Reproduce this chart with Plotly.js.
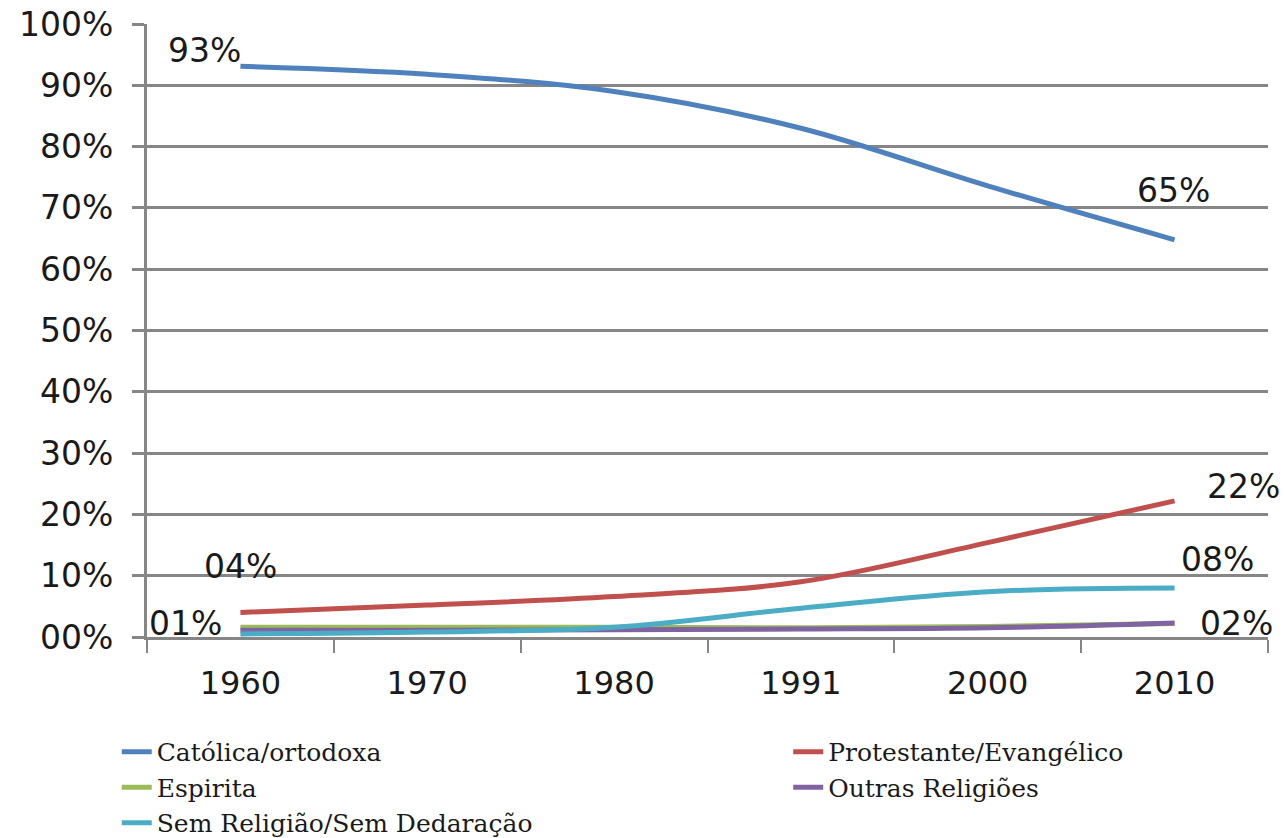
<!DOCTYPE html>
<html>
<head>
<meta charset="utf-8">
<script src="https://cdn.plot.ly/plotly-3.0.1.min.js"></script>
<style>html,body{margin:0;padding:0;background:#fff;}#chart{width:1284px;height:838px;}</style>
</head>
<body>
<div id="chart"></div>
<script>
const years = ["1960", "1970", "1980", "1991", "2000", "2010"];
const catolica = [93.1, 91.8, 89.0, 83.0, 73.6, 64.8];
const protestante = [4.0, 5.2, 6.6, 9.0, 15.4, 22.2];
const espirita = [1.6, 1.6, 1.6, 1.5, 1.7, 2.2];
const outras = [1.1, 1.1, 1.2, 1.3, 1.5, 2.3];
const semReligiao = [0.5, 0.8, 1.6, 4.7, 7.4, 8.0];
const seriesNames = ["Católica/ortodoxa", "Protestante/Evangélico", "Espirita", "Outras Religiões", "Sem Religião/Sem Dedaração"];
const seriesColors = ["#4F81BD", "#C0504D", "#9BBB59", "#8064A2", "#4BACC6"];
const seriesLegend = ["legend", "legend2", "legend", "legend2", "legend"];
const yTickVals = [0, 10, 20, 30, 40, 50, 60, 70, 80, 90, 100];
const yTickText = ["00%", "10%", "20%", "30%", "40%", "50%", "60%", "70%", "80%", "90%", "100%"];
// data labels: series values, point index, label text
const labelSeries = [catolica, catolica, protestante, protestante, espirita, semReligiao, outras];
const labelIndex = [0, 5, 0, 5, 0, 5, 5];
const labelText = ["93%", "65%", "04%", "22%", "01%", "08%", "02%"];
const labelShiftX = [-36, -1, 0, 69, -55, 43, 62];
const labelShiftY = [16, 49, 46, 14, 4, 28, -1];

const allSeries = [catolica, protestante, espirita, outras, semReligiao];
const traces = allSeries.map((vals, i) => ({
  x: years, y: vals, type: "scatter", mode: "lines",
  name: seriesNames[i], legend: seriesLegend[i],
  line: {color: seriesColors[i], width: 5, shape: "spline", smoothing: 1},
  hoverinfo: "skip"
}));

function tf(size) { return {family: "DejaVu Sans, Verdana, sans-serif", size: size, color: "#1a1a1a"}; }
function lf() { return {family: "DejaVu Serif, Liberation Serif, serif", size: 25, color: "#1a1a1a"}; }

const layout = {
  width: 1284, height: 838,
  margin: {l: 147, r: 16, t: 24, b: 201, autoexpand: false},
  paper_bgcolor: "#fff", plot_bgcolor: "#fff",
  showlegend: true,
  xaxis: {
    type: "category", range: [-0.5, 5.5],
    tickson: "boundaries", ticks: "outside", ticklen: 13, tickwidth: 2, tickcolor: "#868686",
    showgrid: false, showline: true, linecolor: "#868686", linewidth: 3,
    tickfont: tf(32), ticklabelstandoff: 16, fixedrange: true
  },
  yaxis: {
    range: [0, 100], tickvals: yTickVals, ticktext: yTickText,
    ticks: "outside", ticklen: 12, tickwidth: 3, tickcolor: "#868686",
    showgrid: true, gridcolor: "#868686", gridwidth: 3,
    showline: true, linecolor: "#868686", linewidth: 3,
    zeroline: false, tickfont: tf(33), ticklabelstandoff: 12, fixedrange: true
  },
  legend: {
    orientation: "v", x: -0.027, xanchor: "left", y: -0.150, yanchor: "top",
    font: lf(), tracegroupgap: 0, bgcolor: "rgba(0,0,0,0)"
  },
  legend2: {
    orientation: "v", x: 0.572, xanchor: "left", y: -0.150, yanchor: "top",
    font: lf(), tracegroupgap: 0, bgcolor: "rgba(0,0,0,0)"
  },
  annotations: labelText.map((t, k) => ({
    x: labelIndex[k], y: labelSeries[k][labelIndex[k]], xref: "x", yref: "y",
    text: t, showarrow: false, xshift: labelShiftX[k], yshift: labelShiftY[k],
    font: tf(33)
  }))
};

Plotly.newPlot("chart", traces, layout, {staticPlot: true, displayModeBar: false});
</script>
</body>
</html>
